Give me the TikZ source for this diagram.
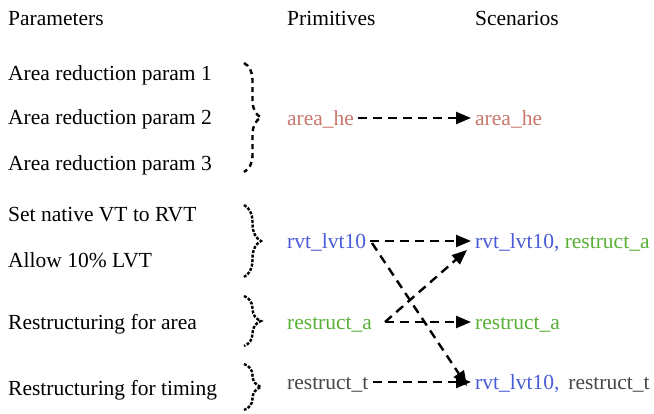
\documentclass[tikz,border=0pt]{standalone}
\usepackage{fontspec}
\setmainfont{Liberation Serif}
\usetikzlibrary{decorations.pathreplacing,arrows.meta}
\definecolor{cred}{HTML}{C8786E}
\definecolor{cblue}{HTML}{4A5BD8}
\definecolor{cgreen}{HTML}{58B038}
\definecolor{cgray}{HTML}{474747}
\begin{document}
\begin{tikzpicture}[x=1pt,y=-1pt,
  txt/.style={anchor=west,inner sep=0pt,text height=18pt,text depth=2.4pt,font=\fontsize{21.5}{26}\selectfont},
  brc/.style={decorate,decoration={brace,amplitude=17pt},line width=2.4pt},
  flow/.style={line width=2.4pt,dash pattern=on 9pt off 6pt,-{Triangle[length=15pt,width=12pt]}}]
\useasboundingbox (0,0) rectangle (654,414);
% headers
\node[txt] (hp) at (8,18) {Parameters};
\node[txt] (hpr) at (287,18) {Primitives};
\node[txt] (hs) at (475,18) {Scenarios};
% parameters
\node[txt] (p1) at (8,73) {Area reduction param 1};
\node[txt] (p2) at (8,117) {Area reduction param 2};
\node[txt] (p3) at (8,163) {Area reduction param 3};
\node[txt] (p4) at (8,214) {Set native VT to RVT};
\node[txt] (p5) at (8,260) {Allow 10\% LVT};
\node[txt] (p6) at (8,322) {Restructuring for area};
\node[txt] (p7) at (8,388) {Restructuring for timing};
% braces
\draw[brc,dash pattern=on 5pt off 4pt] (244,63) -- (244,172);
\draw[brc,dash pattern=on 3pt off 1.5pt] (244,205) -- (244,277);
\draw[brc,dash pattern=on 3pt off 1.5pt] (244,296) -- (244,346);
\draw[brc,dash pattern=on 3pt off 1.5pt] (244,364) -- (244,410);
% primitives
\node[txt,text=cred] (ah) at (287,118) {area\_he};
\node[txt,text=cblue] (rv) at (287,241) {rvt\_lvt10};
\node[txt,text=cgreen] (ra) at (287,322) {restruct\_a};
\node[txt,text=cgray] (rt) at (287,382) {restruct\_t};
% scenarios
\node[txt,text=cred] (s1) at (475,118) {area\_he};
\node[txt] (s2) at (475,241) {\textcolor{cblue}{rvt\_lvt10,} \textcolor{cgreen}{restruct\_a}};
\node[txt,text=cgreen] (s3) at (475,322) {restruct\_a};
\node[txt] (s4) at (475,382) {\textcolor{cblue}{rvt\_lvt10,}\, \textcolor{cgray}{restruct\_t}};
% connectors
\coordinate (raout) at (385,322);
\coordinate (rvout) at (372,243);
\coordinate (s2in) at (467,250);
\coordinate (s4in) at (467,386);
\draw[flow] (ah.east) ++(4,0) -- ([xshift=-4pt]s1.west);
\draw[flow] (rv.east) ++(4,0) -- ([xshift=-4pt]s2.west);
\draw[flow] (raout) -- ([xshift=-4pt]s3.west);
\draw[flow] (raout) -- (s2in);
\draw[flow] (rvout) -- (s4in);
\draw[flow] (rt.east) ++(4,0) -- ([xshift=-4pt]s4.west);
\end{tikzpicture}
\end{document}
